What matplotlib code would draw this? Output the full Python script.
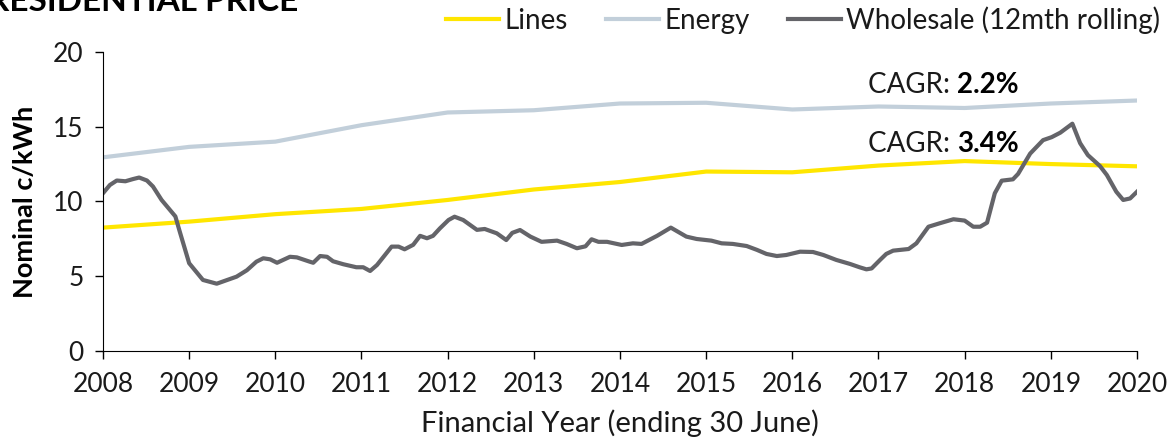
import numpy as np
import matplotlib.pyplot as plt

# Annual network (lines) and energy components, c/kWh
years = [2008, 2009, 2010, 2011, 2012, 2013, 2014, 2015, 2016, 2017, 2018, 2019, 2020]
lines = [8.25, 8.65, 9.15, 9.5, 10.1, 10.8, 11.3, 12.0, 11.95, 12.4, 12.7, 12.5, 12.35]
energy = [12.95, 13.65, 14.0, 15.1, 15.95, 16.1, 16.55, 16.6, 16.15, 16.35, 16.25, 16.55, 16.75]

# Wholesale 12 month rolling
ws_t = [2008.00, 2008.08, 2008.16, 2008.26, 2008.35, 2008.42, 2008.51, 2008.58, 2008.68, 2008.84,
        2008.89, 2009.00, 2009.16, 2009.32, 2009.55, 2009.67, 2009.78, 2009.86, 2009.94, 2010.02,
        2010.17, 2010.25, 2010.40, 2010.44, 2010.52, 2010.60, 2010.67, 2010.79, 2010.94, 2011.02,
        2011.10, 2011.18, 2011.35, 2011.43, 2011.50, 2011.60, 2011.68, 2011.76, 2011.83, 2011.91,
        2012.01, 2012.08, 2012.18, 2012.34, 2012.43, 2012.57, 2012.68, 2012.75, 2012.84, 2012.96,
        2013.09, 2013.27, 2013.38, 2013.50, 2013.60, 2013.67, 2013.75, 2013.85, 2014.02, 2014.15,
        2014.25, 2014.43, 2014.59, 2014.77, 2014.89, 2015.06, 2015.18, 2015.31, 2015.47, 2015.59,
        2015.70, 2015.82, 2015.93, 2016.09, 2016.24, 2016.36, 2016.51, 2016.67, 2016.78, 2016.86,
        2016.92, 2017.02, 2017.09, 2017.17, 2017.35, 2017.44, 2017.58, 2017.71, 2017.87, 2018.00,
        2018.10, 2018.18, 2018.26, 2018.35, 2018.43, 2018.56, 2018.62, 2018.76, 2018.91, 2019.01,
        2019.11, 2019.25, 2019.34, 2019.43, 2019.57, 2019.65, 2019.76, 2019.84, 2019.92, 2020.00]
ws_v = [10.55, 11.1, 11.4, 11.35, 11.5, 11.6, 11.4, 11.0, 10.1, 9.0,
        8.0, 5.87, 4.75, 4.5, 4.97, 5.4, 5.97, 6.2, 6.13, 5.9,
        6.3, 6.26, 5.97, 5.9, 6.35, 6.3, 6.0, 5.8, 5.6, 5.6,
        5.35, 5.75, 6.98, 6.98, 6.8, 7.1, 7.7, 7.54, 7.7, 8.2,
        8.76, 8.98, 8.76, 8.1, 8.16, 7.87, 7.42, 7.9, 8.09, 7.65,
        7.3, 7.38, 7.16, 6.87, 7.0, 7.47, 7.3, 7.3, 7.09, 7.2,
        7.16, 7.7, 8.25, 7.65, 7.49, 7.38, 7.2, 7.16, 7.02, 6.76,
        6.49, 6.35, 6.42, 6.64, 6.62, 6.42, 6.09, 5.82, 5.6, 5.46,
        5.52, 6.1, 6.49, 6.71, 6.82, 7.2, 8.31, 8.54, 8.81, 8.72,
        8.31, 8.31, 8.58, 10.55, 11.39, 11.48, 11.84, 13.2, 14.1, 14.3,
        14.6, 15.2, 13.9, 13.1, 12.37, 11.77, 10.65, 10.1, 10.2, 10.65]

cagr = [(17.8, '2.2%'), (13.85, '3.4%')]

plt.rcParams['font.family'] = ['Lato', 'DejaVu Sans']
txt = '#1a1a1a'

fig = plt.figure(figsize=(11.73, 4.4), dpi=100)
ax = fig.add_axes([0.0878, 0.2023, 0.8815, 0.6797])

ax.plot(years, lines, color='#FFE600', lw=3, label='Lines')
ax.plot(years, energy, color='#C2CFDA', lw=3, label='Energy')
ax.plot(ws_t, ws_v, color='#646469', lw=3, label='Wholesale (12mth rolling)')

ax.set_xlim(2008, 2020)
ax.set_ylim(0, 20)
ax.set_xticks(years)
ax.set_yticks([0, 5, 10, 15, 20])
ax.tick_params(labelsize=19, length=6, width=1, labelcolor=txt)
ax.tick_params(axis='x', pad=9)
ax.tick_params(axis='y', pad=8)
ax.spines['top'].set_visible(False)
ax.spines['right'].set_visible(False)

ax.set_ylabel('Nominal c/kWh', fontsize=19.5, fontweight='bold', color='black')
ax.yaxis.set_label_coords(-0.064, 0.5)
ax.set_xlabel('Financial Year (ending 30 June)', fontsize=21, color=txt)
ax.xaxis.set_label_coords(0.5, -0.195)

fig.legend(*ax.get_legend_handles_labels(), loc='center right',
           bbox_to_anchor=(1160 / 1173, 1 - 20 / 440), ncol=3, frameon=False,
           fontsize=20, handlelength=1.9, handletextpad=0.18, columnspacing=1.4,
           borderaxespad=0, borderpad=0, labelcolor=txt)

fig.text(-0.01, 0.975, 'RESIDENTIAL PRICE', fontsize=24, fontweight='bold', va='baseline')

# CAGR labels: normal prefix, bold number
fig.canvas.draw()
r = fig.canvas.get_renderer()
for y, val in cagr:
    t = ax.text(2016.88, y, 'CAGR: ', fontsize=20, va='center', color=txt)
    bb = t.get_window_extent(renderer=r)
    x2 = ax.transData.inverted().transform((bb.x1, 0))[0]
    ax.text(x2, y, val, fontsize=20, fontweight='bold', va='center', color='black')

fig.savefig('out.png', dpi=100)
